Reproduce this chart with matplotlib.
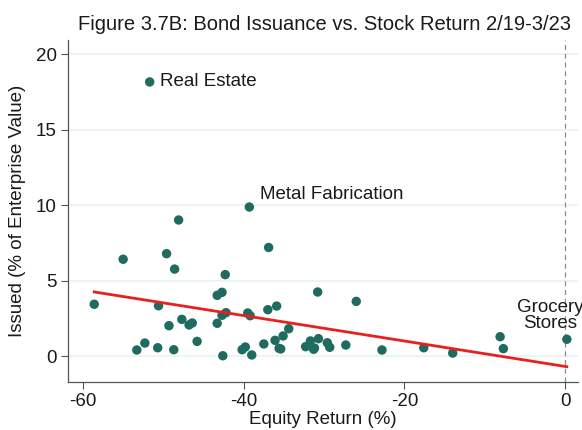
import numpy as np
import matplotlib
matplotlib.use("Agg")
import matplotlib.pyplot as plt

plt.rcParams['font.family'] = ['Liberation Sans', 'DejaVu Sans']

# Industry-level equity return (%) and bond issuance (% of enterprise value)
equity_return = [
    -58.6, -55.0, -49.6, -48.6, -50.6, -47.7, -49.3, -46.8, -46.4, -45.8,
    -53.3, -52.3, -50.7, -48.7, -51.7, -39.3, -48.1, -36.9, -42.3, -43.3,
    -42.7, -30.8, -37.0, -35.9, -42.7, -42.2, -39.5, -39.2, -43.3, -34.4,
    -35.1, -36.1, -35.6, -35.4, -37.5, -40.2, -39.8, -39.0, -42.6, -32.3,
    -31.7, -31.2, -30.7, -29.6, -29.3, -31.3, -27.3, -26.0, -22.8, -17.6,
    -14.0, -8.1, -7.7, 0.2,
]
issued = [
    3.46, 6.44, 6.81, 5.79, 3.36, 2.46, 2.04, 2.09, 2.22, 1.00,
    0.43, 0.89, 0.58, 0.45, 18.18, 9.90, 9.04, 7.22, 5.42, 4.05,
    4.25, 4.27, 3.10, 3.34, 2.73, 2.90, 2.88, 2.70, 2.20, 1.84,
    1.36, 1.07, 0.54, 0.50, 0.83, 0.45, 0.63, 0.10, 0.05, 0.65,
    1.03, 0.56, 1.18, 0.91, 0.61, 0.48, 0.76, 3.65, 0.43, 0.58,
    0.23, 1.31, 0.52, 1.14,
]

# Linear fit of issuance on equity return
fit_intercept = -0.66
fit_slope = -0.0842

# Labelled industries
labels = ["Real Estate", "Metal Fabrication", "Grocery\nStores"]
label_x = [-51.7, -39.3, 0.2]
label_y = [18.18, 9.90, 1.14]

x_ticks = [-60, -40, -20, 0]
y_ticks = [0, 5, 10, 15, 20]

x = np.array(equity_return)
y = np.array(issued)

fig = plt.figure(figsize=(5.82, 4.30), dpi=100)
ax = fig.add_axes([0.1163, 0.1123, 0.877, 0.7947])

ax.set_xlim(-61.9, 1.6)
ax.set_ylim(-1.67, 20.96)

for yt in y_ticks:
    ax.axhline(yt, color='#eaf2f3', lw=1.2, zorder=0)

ax.axvline(0, color='#8c8c8c', lw=0.9, ls=(0, (4, 3)), zorder=1)

ax.scatter(x, y, s=46, color='#1f6b5f', edgecolors='none', zorder=3)

xf = np.array([x.min(), x.max()])
ax.plot(xf, fit_intercept + fit_slope * xf, color='#e8201f', lw=2.0, zorder=4)

fs = 13.5
ax.annotate(labels[0], (label_x[0], label_y[0]), xytext=(7.5, 0),
            textcoords='offset points', ha='left', va='center', fontsize=fs,
            color='#1a1a1a')
ax.annotate(labels[1], (label_x[1], label_y[1]), xytext=(7.5, 3),
            textcoords='offset points', ha='left', va='bottom', fontsize=fs,
            color='#1a1a1a')
ax.annotate(labels[2], (label_x[2], label_y[2]), xytext=(-12, 5),
            textcoords='offset points', ha='center', va='bottom', fontsize=fs,
            color='#1a1a1a', linespacing=0.95)

ax.set_xticks(x_ticks)
ax.set_yticks(y_ticks)
ax.set_xticklabels([str(v) for v in x_ticks])
ax.set_yticklabels([str(v) for v in y_ticks])
ax.tick_params(axis='both', length=5, width=0.8, color='#555555',
               labelsize=fs, labelcolor='#1a1a1a', pad=3)

for side in ['top', 'right']:
    ax.spines[side].set_visible(False)
for side in ['left', 'bottom']:
    ax.spines[side].set_color('#555555')
    ax.spines[side].set_linewidth(0.9)

ax.set_xlabel("Equity Return (%)", fontsize=fs, color='#1a1a1a', labelpad=1)
ax.set_ylabel("Issued (% of Enterprise Value)", fontsize=fs, color='#1a1a1a',
              labelpad=7)
fig.text(0.557, 0.942, "Figure 3.7B: Bond Issuance vs. Stock Return 2/19-3/23",
         ha='center', va='center', fontsize=14.5, color='#1a1a1a')

fig.savefig("out.png", dpi=100, facecolor='white')
